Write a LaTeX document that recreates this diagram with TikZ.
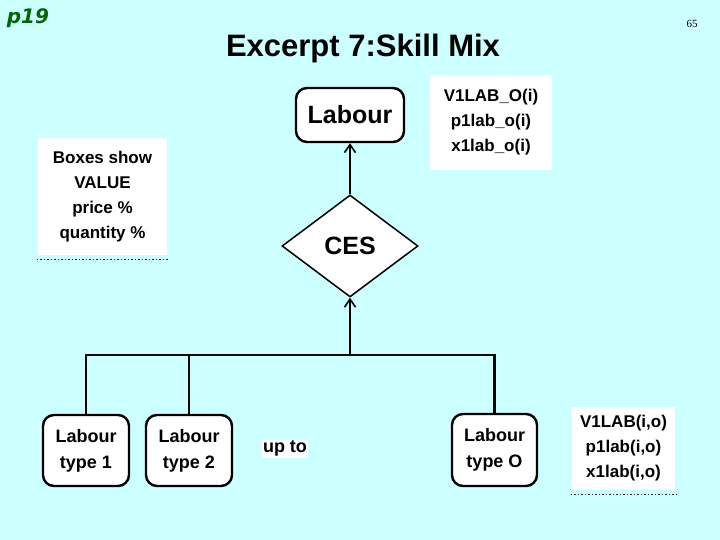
\documentclass[tikz,border=0pt]{standalone}
\usepackage{fontspec}
\setmainfont{Liberation Sans}
\newfontfamily\handfont{DejaVu Sans}
\newfontfamily\numfont{Liberation Serif}
\usetikzlibrary{shapes.geometric,arrows.meta}
\definecolor{paper}{RGB}{204,255,255}
\definecolor{pagegreen}{RGB}{0,102,0}
\begin{document}
\begin{tikzpicture}[x=1pt,y=1pt,line width=2.4pt,
		box/.style={draw,fill=white,rounded corners=11pt,align=center,inner sep=0pt},
		note/.style={fill=white,align=center,inner sep=0pt,font=\bfseries\fontsize{17}{25}\selectfont},
		arr/.style={-{Straight Barb[length=8pt,width=11pt,line width=1.6pt]}},
		dots/.style={line width=0.9pt,color=black!85,dash pattern=on 1.5pt off 2pt}]
		\fill[color=paper] (0,0) rectangle (720,540);
		% page marks
		\node[text=pagegreen,font=\handfont\bfseries\itshape\fontsize{20}{20}\selectfont] (pg) at (28,522) {p19};
		\node[font=\numfont\fontsize{11}{11}\selectfont] (num) at (692,516) {65};
		\node[font=\bfseries\fontsize{31}{31}\selectfont] (title) at (363,492) {Excerpt 7:Skill Mix};
		% top part
		\node[box,minimum width=108pt,minimum height=54pt,font=\bfseries\fontsize{25}{25}\selectfont] (labour) at (350,425) {Labour};
		\node[diamond,draw,fill=white,line width=1.5pt,inner sep=0pt,minimum width=136pt,minimum height=102pt,
			font=\bfseries\fontsize{25}{25}\selectfont] (ces) at (350,294) {CES};
		\node[note,minimum width=122pt,minimum height=95pt] (topr) at (491,417.5) {V1LAB\_O(i)\\p1lab\_o(i)\\x1lab\_o(i)};
		\node[note,minimum width=129pt,minimum height=117pt] (legend) at (102.5,343.5) {Boxes show\\VALUE\\price \%\\quantity \%};
		\draw[dots] ([yshift=-3pt]legend.south west) -- ([yshift=-3pt]legend.south east);
		% bottom part
		\node[box,minimum width=86pt,minimum height=71pt,font=\bfseries\fontsize{18}{26}\selectfont] (t1) at (86,89.5) {Labour\\type 1};
		\node[box,minimum width=86pt,minimum height=71pt,font=\bfseries\fontsize{18}{26}\selectfont] (t2) at (189,89.5) {Labour\\type 2};
		\node[box,minimum width=85pt,minimum height=72pt,font=\bfseries\fontsize{18}{26}\selectfont] (tO) at (494.5,90) {Labour\\type O};
		\node[fill=white,inner sep=1pt,font=\bfseries\fontsize{18}{18}\selectfont] (upto) at (285,91) {up to};
		\node[note,minimum width=103pt,minimum height=83pt] (botr) at (623.5,91.5) {V1LAB(i,o)\\p1lab(i,o)\\x1lab(i,o)};
		\draw[dots] ([yshift=-3pt]botr.south west) -- ([yshift=-3pt]botr.south east);
		% connectors
		\coordinate (bus) at (350,185);
		\draw (t1.north) |- (tO.north |- bus) -- (tO.north);
		\draw (t2.north) -- (t2.north |- bus);
		\draw[arr] (bus) -- (ces.south);
		\draw[arr] (ces.north) -- (labour.south);
	\end{tikzpicture}
\end{document}
